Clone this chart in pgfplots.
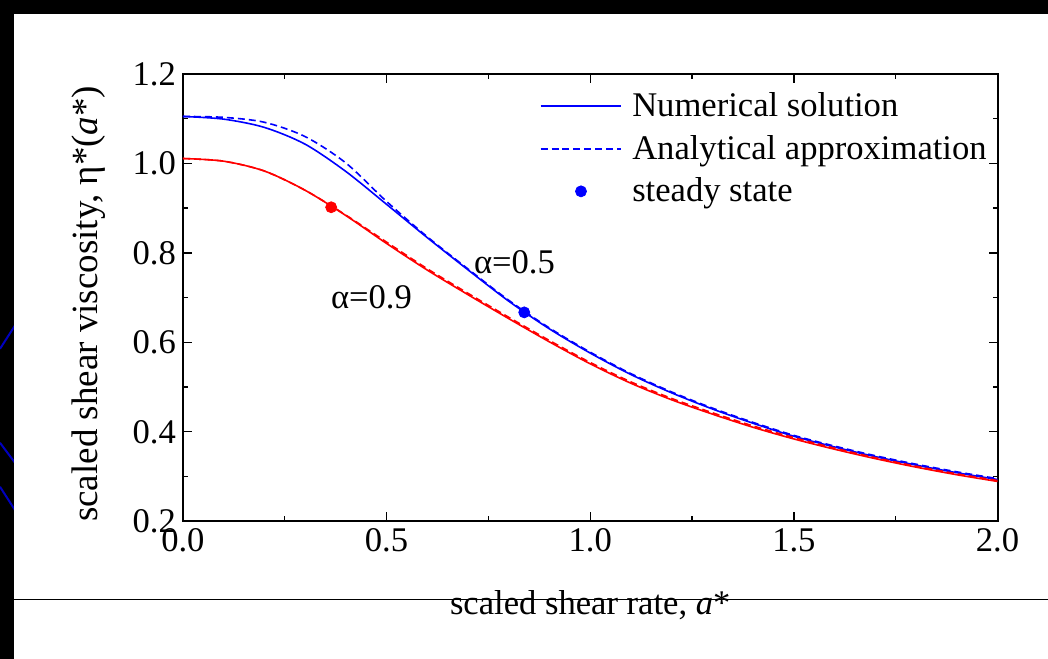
\documentclass[border=0pt]{standalone}
\usepackage{fontspec}
\setmainfont{Liberation Serif}
\usepackage{pgfplots}
\pgfplotsset{compat=1.18}
\newcommand\figfont{\fontsize{17.3}{20}\selectfont}
\pgfplotsset{
  linelegend/.style={legend image code/.code={\path (0pt,0pt) (43.5pt,0pt);\draw[##1] (0pt,0pt) -- (40.5pt,0pt);}},
  dotlegend/.style={legend image code/.code={\path (0pt,0pt) (43.5pt,0pt);\draw[##1] plot coordinates {(20.25pt,0pt)};}},
}
\begin{document}
\begin{tikzpicture}
% slide background
\fill[white] (0,0) rectangle (524pt,329.5pt);
\fill[black] (0,322.5pt) rectangle (524pt,329.5pt);
\fill[black] (0,0) rectangle (7pt,329.5pt);
\begin{scope}
  \clip (0,0) rectangle (7pt,322.5pt);
  \draw[blue!75!black, line width=1pt] (0,155pt) -- (9pt,169pt);
  \draw[blue!75!black, line width=1pt] (0,108pt) -- (9pt,96pt);
  \draw[blue!75!black, line width=1pt] (0,86pt) -- (9pt,72pt);
\end{scope}
\draw[black, line width=0.5pt] (7pt,29.5pt) -- (524pt,29.5pt);

\begin{axis}[
  at={(91.5pt,68.75pt)}, anchor=south west,
  scale only axis, width=407.5pt, height=223.75pt,
  xmin=0, xmax=2, ymin=0.2, ymax=1.2,
  xtick={0,0.5,...,2}, ytick={0.2,0.4,...,1.21},
  minor x tick num=1, minor y tick num=1,
  tick align=inside,
  major tick length=4.5pt, minor tick length=2.5pt,
  tick style={black, line width=0.7pt},
  axis line style={line width=1pt},
  ticklabel style={font=\figfont},
  xticklabel style={/pgf/number format/.cd, fixed, fixed zerofill, precision=1, assume math mode=true},
  yticklabel style={/pgf/number format/.cd, fixed, fixed zerofill, precision=1, assume math mode=true},
  legend style={draw=none, fill=none, font=\figfont, at={(axis cs:0.875,1.168)},
    anchor=north west, inner sep=0pt, row sep=3.8pt},
  legend cell align=left,
]
\addlegendimage{color=blue, line width=0.8pt, linelegend}
\addlegendentry{Numerical solution}
\addlegendimage{color=blue, line width=0.8pt, dash pattern=on 3.5pt off 2pt, linelegend}
\addlegendentry{Analytical approximation}
\addlegendimage{color=blue, only marks, mark=*, mark size=2.75pt, dotlegend}
\addlegendentry{steady state}

% alpha = 0.5, numerical
\addplot[blue, line width=0.8pt, smooth, forget plot] coordinates {
(0.0,1.105)(0.1,1.099)(0.2,1.0805)(0.3,1.043)(0.4,0.982)(0.5,0.9085)
(0.6,0.834)(0.7,0.762)(0.8,0.692)(0.9,0.630)(1.0,0.576)(1.1,0.528)
(1.2,0.487)(1.3,0.451)(1.4,0.419)(1.5,0.390)(1.6,0.366)(1.7,0.3445)
(1.8,0.3255)(1.9,0.3085)(2.0,0.2933)};
% alpha = 0.5, analytical
\addplot[blue, line width=0.8pt, smooth, dash pattern=on 3.5pt off 2pt, forget plot] coordinates {
(0.0,1.105)(0.1,1.103)(0.2,1.092)(0.3,1.060)(0.4,1.001)(0.5,0.915)
(0.6,0.836)(0.7,0.764)(0.8,0.694)(0.9,0.632)(1.0,0.578)(1.1,0.530)
(1.2,0.489)(1.3,0.453)(1.4,0.421)(1.5,0.392)(1.6,0.368)(1.7,0.3465)
(1.8,0.3275)(1.9,0.3105)(2.0,0.2953)};
% alpha = 0.9, numerical
\addplot[red, line width=0.8pt, smooth, forget plot] coordinates {
(0.0,1.011)(0.1,1.005)(0.2,0.983)(0.3,0.940)(0.4,0.8835)(0.5,0.821)
(0.6,0.7615)(0.7,0.7065)(0.8,0.653)(0.9,0.601)(1.0,0.552)(1.1,0.5085)
(1.2,0.4715)(1.3,0.4395)(1.4,0.410)(1.5,0.384)(1.6,0.361)(1.7,0.340)
(1.8,0.321)(1.9,0.304)(2.0,0.289)};
% alpha = 0.9, analytical
\addplot[red, line width=0.8pt, smooth, dash pattern=on 3.5pt off 2pt, forget plot] coordinates {
(0.0,1.011)(0.1,1.005)(0.2,0.983)(0.3,0.940)(0.4,0.8845)(0.5,0.824)
(0.6,0.7645)(0.7,0.7095)(0.8,0.656)(0.9,0.604)(1.0,0.555)(1.1,0.5115)
(1.2,0.4745)(1.3,0.4425)(1.4,0.413)(1.5,0.387)(1.6,0.3635)(1.7,0.342)
(1.8,0.323)(1.9,0.306)(2.0,0.291)};
% steady states
\addplot[red, only marks, mark=*, mark size=2.75pt, forget plot] coordinates {(0.364,0.902)};
\addplot[blue, only marks, mark=*, mark size=2.75pt, forget plot] coordinates {(0.838,0.667)};

\node[font=\figfont] at (axis cs:0.814,0.780) {α=0.5};
\node[font=\figfont] at (axis cs:0.463,0.701) {α=0.9};
\end{axis}

\node[font=\figfont, anchor=base] at (295.25pt,22pt) {scaled shear rate, \textit{a}*};
\node[font=\fontsize{18.5}{22}\selectfont, anchor=base, rotate=90] at (49pt,177.5pt) {scaled shear viscosity, η*(\textit{a}*)};
\end{tikzpicture}
\end{document}
